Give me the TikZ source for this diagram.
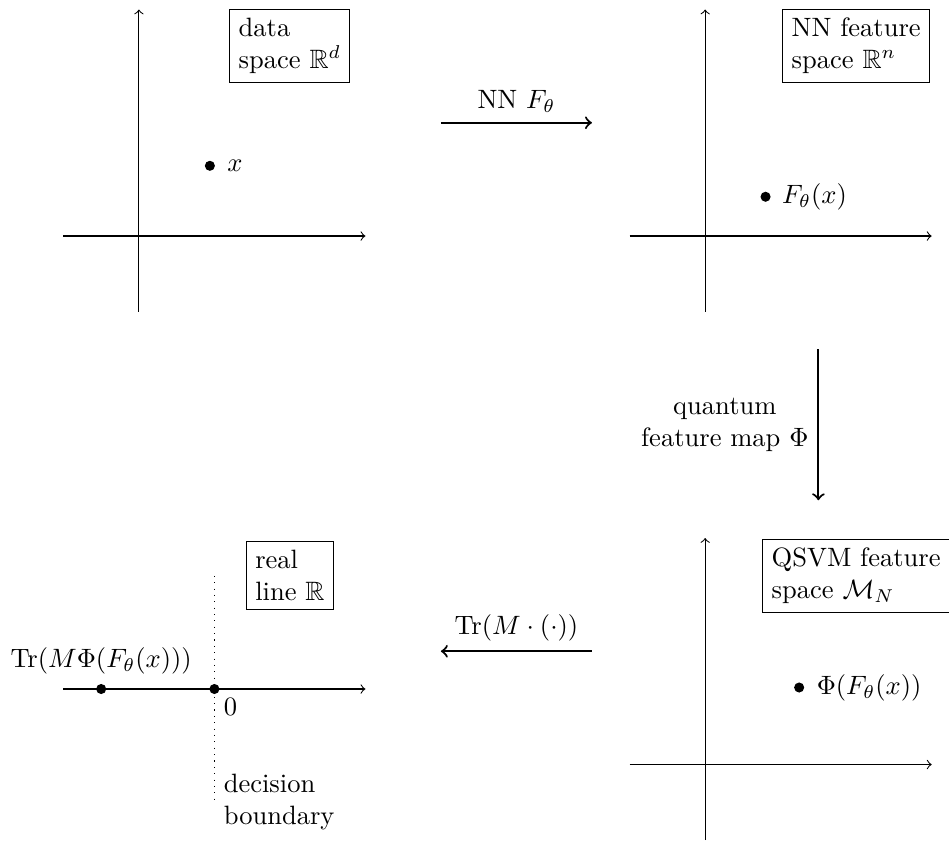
\documentclass[tikz,border=0pt]{standalone}
\usepackage{amsmath,amssymb}
\begin{document}
\begin{tikzpicture}[
  axis/.style={->},
  dot/.style={circle,fill=black,inner sep=0pt,minimum size=3.8pt},
  spacebox/.style={draw,align=left},
  maparrow/.style={->,thick},
]
\useasboundingbox (-1.84,-8.01) rectangle (10.73,3.126);
% ---- data space
\coordinate (a1l) at (-1,0); \coordinate (a1r) at (3,0);
\coordinate (a1b) at (0,-1); \coordinate (a1t) at (0,3);
\draw[axis] (a1l) -- (a1r);
\draw[axis] (a1b) -- (a1t);
\node[spacebox] (b1) at (2,2.52) {data\\space $\mathbb{R}^d$};
\node[dot] (p1) at (0.94,0.93) {};
\node[right,xshift=1pt] (l1) at (p1.east) {$x$};
% ---- NN feature space
\coordinate (a2l) at (6.5,0); \coordinate (a2r) at (10.5,0);
\coordinate (a2b) at (7.5,-1); \coordinate (a2t) at (7.5,3);
\draw[axis] (a2l) -- (a2r);
\draw[axis] (a2b) -- (a2t);
\node[spacebox] (b2) at (9.5,2.52) {NN feature\\space $\mathbb{R}^n$};
\node[dot] (p2) at (8.30,0.52) {};
\node[right,xshift=0.6pt] (l2) at (p2.east) {$F_\theta(x)$};
% ---- QSVM feature space
\coordinate (a3l) at (6.5,-7); \coordinate (a3r) at (10.5,-7);
\coordinate (a3b) at (7.5,-8); \coordinate (a3t) at (7.5,-4);
\draw[axis] (a3l) -- (a3r);
\draw[axis] (a3b) -- (a3t);
\node[spacebox] (b3) at (9.5,-4.5) {QSVM feature\\space $\mathcal{M}_N$};
\node[dot] (p3) at (8.745,-5.98) {};
\node[right,xshift=1pt] (l3) at (p3.east) {$\Phi(F_\theta(x))$};
% ---- real line
\coordinate (a4l) at (-1,-6); \coordinate (a4r) at (3,-6);
\draw[axis] (a4l) -- (a4r);
\coordinate (dbt) at (1,-4.5); \coordinate (dbb) at (1,-7.5);
\draw[dotted] (dbt) -- (dbb);
\node[spacebox] (b4) at (2,-4.5) {real\\line $\mathbb{R}$};
\node[dot] (p4) at (-0.5,-6) {};
\node[above] (l4) at (p4.north) {$\mathrm{Tr}(M\Phi(F_\theta(x)))$};
\node[dot] (z) at (1,-6) {};
\node[below right] (l0) at (z.center) {$0$};
\node[right,align=left] (ldb) at (dbb) {decision\\boundary};
% ---- maps
\coordinate (m1s) at (4,1.5); \coordinate (m1e) at (6,1.5);
\draw[maparrow] (m1s) -- node[above] (lm1) {NN $F_\theta$} (m1e);
\coordinate (m2s) at (9,-1.5); \coordinate (m2e) at (9,-3.5);
\draw[maparrow] (m2s) -- node[left,align=center] (lm2) {quantum\\feature map $\Phi$} (m2e);
\coordinate (m3s) at (6,-5.5); \coordinate (m3e) at (4,-5.5);
\draw[maparrow] (m3s) -- node[above] (lm3) {$\mathrm{Tr}(M\cdot(\cdot))$} (m3e);
\end{tikzpicture}
\end{document}
